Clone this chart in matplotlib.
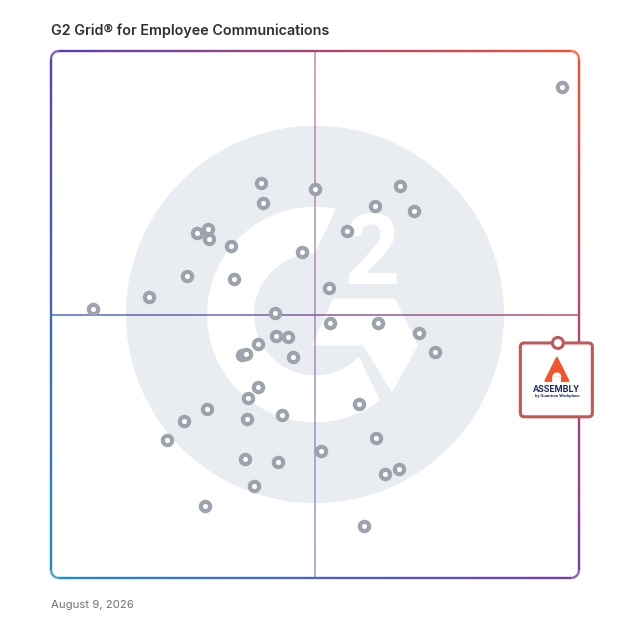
import numpy as np
import matplotlib
matplotlib.use('Agg')
import matplotlib.pyplot as plt
from matplotlib.patches import Circle, Wedge, Polygon, FancyBboxPatch, Rectangle
from matplotlib.collections import LineCollection

# ---------------- data (grid scale 0-100) ----------------
title = "G2 Grid® for Employee Communications"
date_label = "August 9, 2026"

satisfaction = [39.8, 50.0, 66.1, 40.2, 61.4, 68.8, 56.1, 27.7, 29.7, 29.9,
                34.1, 47.5, 25.8, 34.7, 52.7, 18.6, 42.4, 52.8, 61.9, 69.7,
                42.6, 44.9, 39.2, 36.2, 36.9, 45.8, 72.7, 39.2, 37.3, 29.5,
                25.2, 37.1, 43.8, 58.3, 22.0, 61.6, 51.1, 36.7, 43.0, 65.9,
                63.3, 38.4, 29.2, 7.9, 96.8, 59.3]
market_presence = [75.0, 73.8, 74.4, 71.2, 70.6, 69.6, 65.8, 65.5, 66.2, 64.3,
                   63.0, 61.9, 57.3, 56.7, 55.0, 53.3, 50.3, 48.4, 48.4, 46.5,
                   45.9, 45.7, 44.4, 42.3, 42.5, 41.9, 42.9, 36.2, 34.2, 32.1,
                   29.8, 30.2, 30.9, 33.0, 26.2, 26.6, 24.1, 22.6, 22.0, 20.7,
                   19.7, 17.5, 13.7, 51.0, 93.2, 9.9]
highlight_name = "ASSEMBLY"
highlight_sub = "by Quantum Workplace"
highlight_sat = 96.0
highlight_mkt = 44.6

# ---------------- figure ----------------
W = 628
fig = plt.figure(figsize=(6.28, 6.28), dpi=100)
L, R, T, B = 51, 579, 51, 578
ax = fig.add_axes([L / W, 1 - B / W, (R - L) / W, (B - T) / W])
ax.set_xlim(0, 100)
ax.set_ylim(0, 100)
ax.axis('off')
PXU = (R - L) / 100.0  # px per data unit


def u(p):
    return p / PXU


# ---------------- G2 watermark ----------------
cx, cy = 50, 50
GRAY = '#e9ecf0'
ax.add_patch(Circle((cx, cy), u(189), fc=GRAY, ec='none', zorder=1))
ax.add_patch(Wedge((cx, cy), u(108), 70, 330, width=u(47), fc='white', ec='none', zorder=2))


def rel(pts):
    return [(cx + u(x), cy + u(y)) for x, y in pts]


ax.add_patch(Polygon(rel([(-5, 50), (27, 119), (75, 119), (75, 50)]), closed=True,
                     fc=GRAY, ec='none', zorder=2.1))
ax.add_patch(Polygon(rel([(35, -23.6), (69.6, -95.6), (125, -95.6), (125, -23.6)]), closed=True,
                     fc=GRAY, ec='none', zorder=2.1))
ax.add_patch(Polygon(rel([(18, 16), (80, 16), (103, -31), (77, -78), (48, -31), (-3, -31)]),
                     closed=True, fc='white', ec='none', zorder=2.2))
ax.text(cx + u(57), cy + u(31), "2", ha='center', va='baseline', fontsize=71,
        family='Roboto', fontweight='bold', color='white', zorder=2.3)

# ---------------- gradient colours ----------------
TL = np.array([0x5a, 0x3c, 0xbe]) / 255
TR = np.array([0xff, 0x4b, 0x2b]) / 255
BL = np.array([0x1e, 0x8c, 0xd7]) / 255
BR = np.array([0x78, 0x3c, 0xa5]) / 255


def grad(x, y):
    fx = np.clip(x / 100, 0, 1)
    fy = np.clip(y / 100, 0, 1)
    return (1 - fx) * (1 - fy) * BL + fx * (1 - fy) * BR + (1 - fx) * fy * TL + fx * fy * TR


def colored_line(xs, ys, lw, alpha, z):
    pts = np.column_stack([xs, ys])
    segs = np.stack([pts[:-1], pts[1:]], axis=1)
    mids = (pts[:-1] + pts[1:]) / 2
    cols = [tuple(grad(mx, my)) + (alpha,) for mx, my in mids]
    lc = LineCollection(segs, colors=cols, linewidths=lw, capstyle='butt', zorder=z)
    lc.set_clip_on(False)
    ax.add_collection(lc)


# midlines
n = 300
colored_line(np.linspace(0, 100, n), np.full(n, 50), 1.15, 0.9, 4)
colored_line(np.full(n, 50), np.linspace(0, 100, n), 1.15, 0.6, 4)

# rounded border
r = u(8)
xs, ys = [], []


def seg(x0, y0, x1, y1, k=120):
    xs.extend(np.linspace(x0, x1, k))
    ys.extend(np.linspace(y0, y1, k))


def arc(xc, yc, a0, a1, k=20):
    a = np.radians(np.linspace(a0, a1, k))
    xs.extend(xc + r * np.cos(a))
    ys.extend(yc + r * np.sin(a))


seg(r, 100, 100 - r, 100)
arc(100 - r, 100 - r, 90, 0)
seg(100, 100 - r, 100, r)
arc(100 - r, r, 0, -90)
seg(100 - r, 0, r, 0)
arc(r, r, 270, 180)
seg(0, r, 0, 100 - r)
arc(r, 100 - r, 180, 90)
xs.append(xs[0]); ys.append(ys[0])
colored_line(np.array(xs), np.array(ys), 1.7, 1.0, 5)

# ---------------- products ----------------
ax.plot(satisfaction, market_presence, 'o', ls='none', ms=6.7, mew=3.0,
        mfc='white', mec='#9da2ad', zorder=6, clip_on=False)

# ---------------- highlighted product ----------------
hx, hy = highlight_sat, highlight_mkt
EDGE = '#c2575a'
bx = hx - u(1.5)
ax.add_patch(FancyBboxPatch((bx - u(36), hy - u(74)), u(72), u(74),
                            boxstyle='round,pad=0,rounding_size=%f' % u(4),
                            fc='white', ec=EDGE, lw=2.2, zorder=7, clip_on=False))
ax.add_patch(Circle((hx, hy), u(5.5), fc='white', ec=EDGE, lw=2.2, zorder=7.2, clip_on=False))

ORANGE = '#f2542d'
ac = hx - u(1)
ax.add_patch(Polygon([(ac, hy - u(15)), (ac + u(11.5), hy - u(38)), (ac - u(11.5), hy - u(38))],
                     closed=True, fc=ORANGE, ec=ORANGE, lw=1.5, joinstyle='round',
                     zorder=7.5, clip_on=False))
ax.add_patch(Wedge((ac, hy - u(34)), u(4.5), 0, 180, fc='white', ec='none', zorder=7.6, clip_on=False))
ax.add_patch(Rectangle((ac - u(4.5), hy - u(40)), u(9), u(6.2), fc='white', ec='none',
                       zorder=7.6, clip_on=False))
ax.text(ac, hy - u(49.5), highlight_name, ha='center', va='baseline', fontsize=6.6,
        family='Roboto', fontweight='bold', color='#1f2b5b', zorder=8, clip_on=False)
ax.text(ac, hy - u(54.5), highlight_sub, ha='center', va='baseline', fontsize=3.1,
        family='Roboto', fontweight='bold', color='#1f2b5b', zorder=8, clip_on=False)

# ---------------- texts ----------------
fig.text(51 / W, 1 - 35 / W, title, ha='left', va='baseline', fontsize=10.3,
         family='Inter', fontweight='semibold', color='#2f2f2f')
fig.text(51 / W, 1 - 607.5 / W, date_label, ha='left', va='baseline', fontsize=8.2,
         family='Inter', color='#707070')

fig.savefig('out.png', dpi=100, facecolor='white')
